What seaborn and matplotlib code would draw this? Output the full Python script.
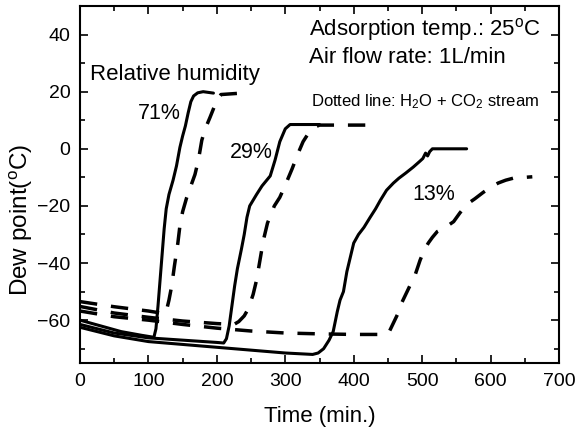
import matplotlib
matplotlib.use("Agg")
import matplotlib.pyplot as plt
import seaborn as sns
from matplotlib.ticker import MultipleLocator

# --- data (time in min, dew point in degC) ---
# solid lines: H2O stream
t_71 = [0, 30, 60, 90, 108, 111, 114, 117, 120, 123, 126, 130, 136, 141, 146, 150, 154, 158, 162, 166, 172, 180, 195]
dp_71 = [-60, -62, -64, -65.3, -66, -63, -55, -46, -37, -28, -21, -16, -11, -6, 0.5, 4.5, 8, 12.5, 16.5, 18.5, 19.6, 20, 19.5]

t_29 = [0, 50, 100, 150, 200, 210, 214, 218, 222, 226, 230, 236, 240, 244, 248, 258, 266, 278, 285, 292, 300, 307, 350]
dp_29 = [-61.5, -64.5, -66.2, -67, -67.8, -68, -66.5, -62, -55, -48, -42, -35, -30, -24, -20, -16, -13, -9.5, -4, 2.5, 7, 8.5, 8.5]

t_13 = [0, 50, 100, 150, 200, 250, 300, 340, 348, 356, 364, 370, 376, 380, 385, 390, 395, 400, 407, 415, 424,
        432, 439, 448, 458, 466, 476, 487, 496, 501, 505, 508, 511, 515, 565]
dp_13 = [-62.5, -65.5, -67.5, -68.5, -69.5, -70.5, -71.5, -72, -71.5, -70, -67, -64, -57, -53, -50, -43, -38, -33, -30, -27.5, -24,
         -21, -18, -14.5, -12, -10.3, -8.5, -6.4, -4.5, -3.4, -1.5, -2.5, -1, 0, 0]

# dashed lines: H2O + CO2 stream
t_71d = [0, 50, 100, 118, 122, 126, 130, 134, 138, 143, 146, 150, 156, 162, 168, 173, 178, 183, 190, 195, 200, 206, 236]
dp_71d = [-53.5, -55.3, -56.8, -57.5, -58, -57, -53, -48, -41, -33, -27, -22, -17, -13, -9, -4, 3, 7, 11, 14, 17, 19, 19.5]

t_29d = [0, 50, 100, 150, 200, 225, 232, 240, 246, 253, 258, 263, 268, 274, 284, 292, 300, 310, 318, 326, 334, 342, 350, 420]
dp_29d = [-55.2, -57.5, -59, -60.3, -61.2, -61.5, -60.5, -58.5, -56, -51, -46, -39, -32, -26, -20, -17, -12.7, -7, -2, 2.5, 5.5, 7.5, 8.3, 8.3]

t_13d = [0, 50, 100, 150, 200, 250, 300, 350, 400, 445, 452, 458, 464, 470, 478, 485, 490, 497, 503, 509, 515, 522,
         534, 546, 555, 565, 577, 589, 600, 611, 622, 633, 661]
dp_13d = [-56.8, -58.8, -60, -61.5, -62.8, -63.8, -64.5, -64.8, -65, -65, -64, -61, -58, -54, -50, -46.5, -44, -39, -35.5, -33, -31, -29,
          -27.5, -25.5, -22.5, -19.5, -17.5, -15.3, -13.5, -12, -11, -10.3, -9.8]

sns.set_theme(style="ticks")
plt.rcParams['font.family'] = ['Liberation Sans', 'DejaVu Sans']
plt.rcParams['mathtext.fontset'] = 'custom'
plt.rcParams['mathtext.rm'] = 'Liberation Sans'
plt.rcParams['mathtext.it'] = 'Liberation Sans'
plt.rcParams['text.color'] = 'black'

fig = plt.figure(figsize=(5.77, 4.32), dpi=100)
ax = fig.add_axes([80 / 577, 69 / 432, 479 / 577, 357 / 432])

for t, dp in [(t_71, dp_71), (t_29, dp_29), (t_13, dp_13)]:
    sns.lineplot(x=t, y=dp, ax=ax, color="black", linewidth=2.2, sort=False, estimator=None)
for t, dp in [(t_71d, dp_71d), (t_29d, dp_29d), (t_13d, dp_13d)]:
    sns.lineplot(x=t, y=dp, ax=ax, color="black", linewidth=2.5, sort=False, estimator=None,
                 linestyle=(0, (5, 4)))

ax.set_xlim(0, 700)
ax.set_ylim(-75, 50)
ax.set_yticks([-60, -40, -20, 0, 20, 40])
ax.xaxis.set_major_locator(MultipleLocator(100))
ax.xaxis.set_minor_locator(MultipleLocator(50))
ax.yaxis.set_minor_locator(MultipleLocator(10))
ax.tick_params(which="both", direction="in", top=True, right=True, color="black", width=1.2)
ax.tick_params(which="major", length=6, labelsize=14, labelcolor="black", pad=7)
ax.tick_params(which="minor", length=3.5)
for s in ax.spines.values():
    s.set_linewidth(1.5)
    s.set_color("black")

ax.set_xlabel("Time (min.)", fontsize=16, labelpad=12, color="black")
ax.set_ylabel("Dew point($^{\\rm o}$C)", fontsize=17.5, color="black")
ax.yaxis.set_label_coords(-0.094, 0.4)

ax.text(335, 41.8, "Adsorption temp.: 25$^{\\rm o}$C", fontsize=16, va="center")
ax.text(335, 32, "Air flow rate: 1L/min", fontsize=16, va="center")
ax.text(15, 26, "Relative humidity", fontsize=16, va="center")
ax.text(338, 16.5, "Dotted line: H$_2$O + CO$_2$ stream", fontsize=12, va="center")
ax.text(147, 12.5, "71%", fontsize=15.5, ha="right", va="center")
ax.text(281, -1.4, "29%", fontsize=15.5, ha="right", va="center")
ax.text(485, -16, "13%", fontsize=15.5, va="center")

fig.savefig("out.png", dpi=100)
